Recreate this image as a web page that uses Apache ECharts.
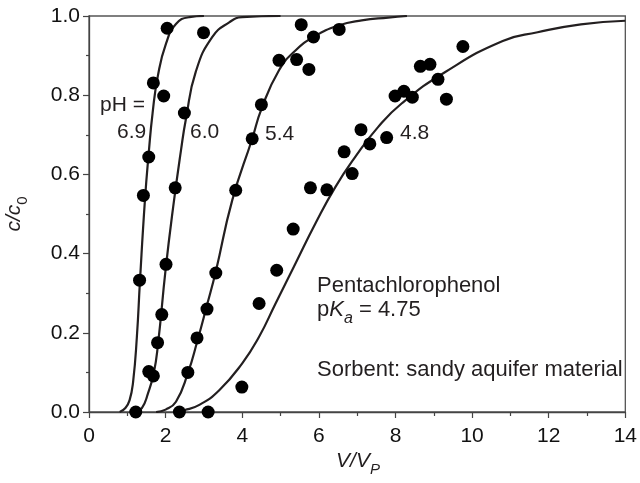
<!DOCTYPE html>
<html>
<head>
<meta charset="utf-8">
<script src="https://cdn.jsdelivr.net/npm/echarts@6/dist/echarts.min.js"></script>
<style>html,body{margin:0;padding:0;background:#fff}#c{width:640px;height:483px}</style>
</head>
<body>
<div id="c"></div>
<script>
// Measured points [V/VP, c/c0]
const dots69 = [[1.22,0],[1.32,0.333],[1.42,0.547],[1.56,0.644],[1.68,0.831],[1.95,0.798],[2.04,0.969],[1.56,0.102]];
const dots60 = [[1.68,0.091],[1.79,0.175],[1.90,0.246],[2.01,0.373],[2.25,0.566],[2.49,0.755],[2.99,0.958]];
const dots54 = [[2.36,0],[2.58,0.10],[2.82,0.187],[3.08,0.26],[3.31,0.351],[3.83,0.56],[4.26,0.69],[4.50,0.776],[4.96,0.888],[5.42,0.89],[5.74,0.865],[5.54,0.978],[5.86,0.947],[6.53,0.966]];
const dots48 = [[3.11,0],[3.99,0.063],[4.44,0.274],[4.90,0.358],[5.33,0.462],[5.78,0.566],[6.21,0.561],[6.66,0.657],[6.87,0.602],[7.10,0.713],[7.33,0.677],[7.77,0.693],[7.99,0.798],[8.22,0.81],[8.44,0.795],[8.65,0.873],[8.90,0.878],[9.11,0.84],[9.33,0.79],[9.76,0.923]];
// Fitted curves
const curve69 = [[0.80,0],[0.95,0.01],[1.06,0.03],[1.15,0.075],[1.25,0.19],[1.33,0.33],[1.46,0.535],[1.56,0.655],[1.66,0.755],[1.80,0.85],[2.01,0.93],[2.27,0.98],[2.62,0.997],[3.0,1.0]];
const curve60 = [[1.20,0],[1.38,0.01],[1.54,0.047],[1.69,0.098],[1.80,0.17],[2.0,0.36],[2.2,0.52],[2.4,0.66],[2.53,0.74],[2.79,0.86],[3.22,0.947],[3.66,0.984],[4.0,0.997],[5.0,1.0]];
const curve54 = [[1.75,0],[2.0,0.006],[2.27,0.026],[2.58,0.098],[2.83,0.18],[3.08,0.27],[3.31,0.355],[3.74,0.535],[4.26,0.69],[4.50,0.765],[4.96,0.863],[5.39,0.913],[5.86,0.947],[6.51,0.976],[7.12,0.989],[7.81,0.996],[8.3,1.0]];
const curve48 = [[2.2,0],[2.5,0.005],[2.88,0.018],[3.40,0.055],[4.0,0.123],[4.44,0.19],[4.87,0.274],[5.39,0.375],[5.91,0.476],[6.43,0.568],[6.95,0.644],[7.55,0.72],[8.16,0.779],[9.29,0.858],[10.8,0.937],[11.71,0.959],[12.84,0.979],[14.0,0.988]];
const xTickValues = [0,2,4,6,8,10,12,14];
const yTickValues = [0.0,0.2,0.4,0.6,0.8,1.0];

const FONT = '"Liberation Sans", Arial, Helvetica, sans-serif';
const INK = '#231f20';
const chart = echarts.init(document.getElementById('c'), null, {renderer:'canvas'});

function lineSeries(d){ return {type:'line', data:d, showSymbol:false, smooth:0.5, lineStyle:{color:INK,width:2.2}, z:2, silent:true}; }
function dotSeries(d){ return {type:'scatter', data:d, symbol:'circle', symbolSize:13, itemStyle:{color:'#000',opacity:1}, z:3, silent:true}; }

function txt(x,y,text,size){
  return {type:'text', z:10, style:{x:x, y:y, text:text, font:(size||21)+'px '+FONT, fontSize:size||21, fontFamily:FONT, fill:INK, textAlign:'left', textVerticalAlign:'middle', verticalAlign:'middle'}};
}
function richStyles(size, subItalic){
  return {
    n:{fontSize:size,fontFamily:FONT,fill:INK,color:INK,verticalAlign:'top',lineHeight:size+3},
    i:{fontStyle:'italic',fontSize:size,fontFamily:FONT,fill:INK,color:INK,verticalAlign:'top',lineHeight:size+3},
    s:{fontStyle:subItalic?'italic':'normal',fontSize:Math.round(size*0.72),fontFamily:FONT,fill:INK,color:INK,verticalAlign:'bottom',lineHeight:size+6}
  };
}

chart.setOption({
  animation:false,
  grid:{left:89,right:12,top:16,bottom:71,show:true,borderColor:'#555',borderWidth:1.3,backgroundColor:'transparent'},
  xAxis:{type:'value',min:0,max:14,interval:2,
    axisLine:{show:true,onZero:false,lineStyle:{color:'#444',width:1.3}},
    axisTick:{show:true,length:6,lineStyle:{color:'#444',width:1.2}},
    minorTick:{show:true,splitNumber:2,length:4,lineStyle:{color:'#444',width:1.2}},
    splitLine:{show:false},
    axisLabel:{color:'#111',fontSize:21,fontFamily:FONT,margin:14,
      formatter:function(v){return xTickValues.indexOf(v)>=0?String(v):'';}}
  },
  yAxis:{type:'value',min:0,max:1,interval:0.2,
    axisLine:{show:true,onZero:false,lineStyle:{color:'#444',width:1.3}},
    axisTick:{show:true,length:6,lineStyle:{color:'#444',width:1.2}},
    minorTick:{show:true,splitNumber:2,length:3,lineStyle:{color:'#444',width:1.2}},
    splitLine:{show:false},
    axisLabel:{color:'#111',fontSize:21,fontFamily:FONT,margin:9,
      formatter:function(v){return v.toFixed(1);}}
  },
  series:[lineSeries(curve69),lineSeries(curve60),lineSeries(curve54),lineSeries(curve48),
          dotSeries(dots69),dotSeries(dots60),dotSeries(dots54),dotSeries(dots48)],
  graphic:[
    txt(100,105,'pH ='),
    txt(117,132,'6.9'),
    txt(190,132,'6.0'),
    txt(265,134,'5.4'),
    txt(400,133,'4.8'),
    txt(317,286,'Pentachlorophenol',22),
    {type:'text', z:10, style:{x:317, y:313, text:'{n|p}{i|K}{s|a}{n| = 4.75}', rich:richStyles(22,true), font:'22px '+FONT, fill:INK, textAlign:'left', textVerticalAlign:'middle', verticalAlign:'middle'}},
    txt(317,370,'Sorbent: sandy aquifer material',22),
    {type:'text', z:10, style:{x:358, y:464, text:'{i|V/V}{s|P}', rich:richStyles(21,true), font:'21px '+FONT, fill:INK, textAlign:'center', textVerticalAlign:'middle', verticalAlign:'middle'}},
    {type:'text', z:10, rotation:Math.PI/2, x:17, y:214, style:{x:0, y:0, text:'{i|c/c}{s|0}', rich:richStyles(21,false), font:'21px '+FONT, fill:INK, textAlign:'center', textVerticalAlign:'middle', verticalAlign:'middle'}}
  ]
});
</script>
</body>
</html>
